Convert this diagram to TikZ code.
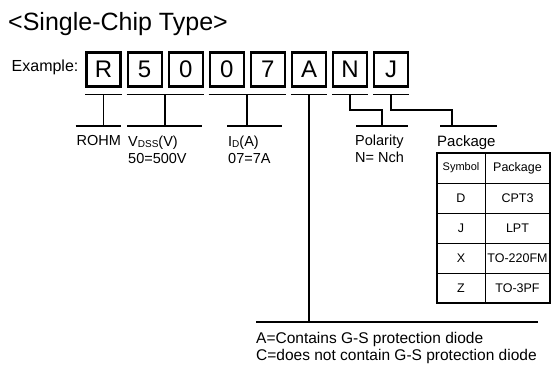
\documentclass[tikz,border=0pt]{standalone}
\usepackage{fontspec}
\setmainfont{Liberation Sans}
\usetikzlibrary{calc}
\begin{document}
\begin{tikzpicture}[x=1bp,y=-1bp,
  titletext/.style={anchor=base west, inner sep=0, font=\fontsize{25bp}{30bp}\selectfont},
  extext/.style={anchor=base west, inner sep=0, font=\fontsize{16bp}{19bp}\selectfont},
  digit/.style={draw, line width=2.2bp, minimum width=34bp, minimum height=34bp, inner sep=0, font=\fontsize{24bp}{28bp}\selectfont},
  bar/.style={line width=1.9bp},
  lbl/.style={anchor=base west, inner sep=0, font=\fontsize{14.5bp}{17bp}\selectfont},
  note/.style={anchor=base west, inner sep=0, font=\fontsize{15.5bp}{18bp}\selectfont},
  cell/.style={inner sep=0, font=\fontsize{12.5bp}{15bp}\selectfont},
  frame/.style={line width=2.2bp},
  gridline/.style={line width=0.7bp}
]
\useasboundingbox (0,0) rectangle (552,367);

% title and example
\node[titletext] (title) at (8,30.7) {<Single-Chip Type>};
\node[extext] (example) at (11.5,71) {Example:};

% code boxes
\foreach \i/\c in {0/R,1/5,2/0,3/0,4/7,5/A,6/N,7/J}
  \node[digit] (b\i) at ({103.5+41.1*\i},69.5) {\c};

% reference levels
\coordinate (ub) at (0,94.5);
\coordinate (lb) at (0,126);
\coordinate (longy) at (0,322);

% upper bars
\draw[bar] (b0.south west |- ub) -- (b0.south east |- ub);
\draw[bar] (b1.south west |- ub) -- (b2.south east |- ub);
\draw[bar] (b3.south west |- ub) -- (b4.south east |- ub);
\draw[bar] (b5.south west |- ub) -- (b5.south east |- ub);
\draw[bar] (b6.south west |- ub) -- (b6.south east |- ub);
\draw[bar] (b7.south west |- ub) -- (b7.south east |- ub);

% ROHM
\coordinate (rs) at (b0.south |- ub);
\coordinate (rl) at (75.5,126);
\coordinate (rr) at (120.5,126);
\draw[bar] (rs) -- (rs |- lb);
\draw[bar] (rl) -- (rr);
\node[lbl] (rohm) at (76.5,145.5) {ROHM};

% VDSS
\coordinate (vs) at ($(b1.south)!0.5!(b2.south)$);
\coordinate (vl) at (127,126);
\coordinate (vr) at (202,126);
\draw[bar] (vs |- ub) -- (vs |- lb);
\draw[bar] (vl) -- (vr);
\node[lbl] (vdss) at (128,146) {V\raisebox{-1bp}{\fontsize{10bp}{10bp}\selectfont DSS}(V)};
\node[lbl] (vval) at (128,163) {50=500V};

% ID
\coordinate (is) at ($(b3.south)!0.5!(b4.south)$);
\coordinate (il) at (227,126);
\coordinate (ir) at (282,126);
\draw[bar] (is |- ub) -- (is |- lb);
\draw[bar] (il) -- (ir);
\node[lbl] (id) at (228,146) {I\raisebox{-1bp}{\fontsize{10bp}{10bp}\selectfont D}(A)};
\node[lbl] (ival) at (228,163) {07=7A};

% Polarity
\coordinate (nj) at (381.7,110);
\coordinate (nl) at (356,126);
\coordinate (nr) at (408,126);
\draw[bar] (b6.south |- ub) |- (nj) -- (nj |- lb);
\draw[bar] (nl) -- (nr);
\node[lbl] (pol) at (355,145.5) {Polarity};
\node[lbl] (polv) at (355,162) {N= Nch};

% Package
\coordinate (pj) at (451.7,110);
\coordinate (pl) at (440,126);
\coordinate (pr) at (497,126);
\draw[bar] (b7.south |- ub) |- (pj) -- (pj |- lb);
\draw[bar] (pl) -- (pr);
\node[lbl, font=\fontsize{15bp}{17bp}\selectfont] (pack) at (437,146) {Package};

% Table
\coordinate (tl) at (437,153);
\coordinate (br) at (550,303);
\coordinate (ct) at (485,153);
\coordinate (cb) at (485,303);
\foreach \k/\yy in {1/183,2/213,3/243,4/273} {
  \coordinate (rowl\k) at (437,\yy);
  \coordinate (rowr\k) at (550,\yy);
  \draw[gridline] (rowl\k) -- (rowr\k);
}
\draw[gridline] (ct) -- (cb);
\draw[frame] (tl) rectangle (br);

\node[cell, font=\fontsize{11bp}{13bp}\selectfont] (hsym) at (461,168) {Symbol};
\node[cell] (hpkg) at (517.5,168) {Package};
\foreach \k/\s/\p/\yy in {1/D/CPT3/198,2/J/LPT/228,3/X/TO-220FM/258,4/Z/TO-3PF/288} {
  \node[cell] (sym\k) at (461,\yy) {\s};
  \node[cell] (pkg\k) at (517.5,\yy) {\p};
}

% A: protection diode
\coordinate (ll) at (256,322);
\coordinate (lr) at (538,322);
\draw[bar] (b5.south |- ub) -- (b5.south |- longy);
\draw[bar] (ll) -- (lr);
\node[note] (na) at (256,343.5) {A=Contains G-S protection diode};
\node[note] (nc) at (256,360) {C=does not contain G-S protection diode};
\end{tikzpicture}
\end{document}
